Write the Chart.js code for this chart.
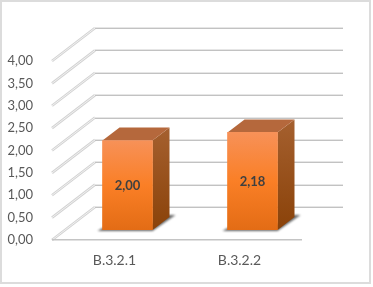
<!DOCTYPE html>
<html>
<head>
<meta charset="utf-8">
<style>
  html, body { margin: 0; padding: 0; background: #fff; }
  canvas { display: block; }
</style>
<script src="https://cdn.jsdelivr.net/npm/chart.js@4"></script>
</head>
<body>
<canvas id="bars" width="373" height="287"></canvas>
<script>
const categories = ['B.3.2.1', 'B.3.2.2'];
const values = [2.00, 2.18];
const yTicks = [0, 0.5, 1, 1.5, 2, 2.5, 3, 3.5, 4];

const fmtNum = (v) => v.toFixed(2).replace('.', ',');

// depth of the fake 3D box: back wall and bar plane are shifted from the axis plane
const WALL = { dx: 43, dy: -33 };
const BAR = { dx: 13, dy: -10 };
const SIDE = { dx: 17, dy: -13 };

function poly(c, pts, fill) {
  c.beginPath();
  pts.forEach((p, i) => (i ? c.lineTo(p[0], p[1]) : c.moveTo(p[0], p[1])));
  c.closePath();
  c.fillStyle = fill;
  c.fill();
}

function drawWalls(chart) {
  const c = chart.ctx;
  const { left, right, bottom } = chart.chartArea;
  const y = chart.scales.y;
  yTicks.forEach((t) => {
    const py = y.getPixelForValue(t);
    // side wall diagonal, a light line with a paler core
    c.beginPath();
    c.moveTo(left, py);
    c.lineTo(left + WALL.dx, py + WALL.dy);
    c.strokeStyle = '#d2d2d2';
    c.lineWidth = 2.6;
    c.stroke();
    c.strokeStyle = '#f4f4f4';
    c.lineWidth = 0.9;
    c.stroke();
    // back wall line
    c.fillStyle = '#e6e6e6';
    c.fillRect(left + WALL.dx, Math.round(py + WALL.dy) - 1, right - left - 2, 1);
    c.fillStyle = '#c2c2c2';
    c.fillRect(left + WALL.dx, Math.round(py + WALL.dy), right - left - 2, 1);
  });
  // front edge of the floor
  c.fillStyle = '#c4c4c4';
  c.fillRect(left, bottom - 1, right - left, 1.5);
}

function drawBarSides(chart) {
  const c = chart.ctx;
  chart.getDatasetMeta(0).data.forEach((bar) => {
    const l = bar.x - bar.width / 2 + BAR.dx;
    const r = bar.x + bar.width / 2 + BAR.dx;
    const t = bar.y + BAR.dy;
    const b = bar.base + BAR.dy;
    // shadow on the floor
    c.save();
    c.filter = 'blur(1px)';
    poly(c, [[l - 5, b + 1], [r, b + 1], [r + 23, b - 15], [r + 12, b - 15], [r, b - 6], [l, b - 2]], '#666666');
    c.restore();
    const g = c.createLinearGradient(0, t + SIDE.dy, 0, b);
    g.addColorStop(0, '#a5602f');
    g.addColorStop(1, '#8a4209');
    poly(c, [[r, t], [r + SIDE.dx, t + SIDE.dy], [r + SIDE.dx, b + SIDE.dy], [r, b]], g);
    poly(c, [[l, t], [l + SIDE.dx, t + SIDE.dy], [r + SIDE.dx, t + SIDE.dy], [r, t]], '#b5683c');
  });
}

const box3d = {
  id: 'box3d',
  beforeDraw(chart) {
    const c = chart.ctx;
    c.strokeStyle = '#dcdcdc';
    c.lineWidth = 2;
    c.strokeRect(1, 1, 369, 282);
  },
  beforeDatasetsDraw(chart) {
    drawWalls(chart);
    drawBarSides(chart);
    chart.ctx.save();
    chart.ctx.translate(BAR.dx, BAR.dy);
  },
  afterDatasetsDraw(chart) {
    const c = chart.ctx;
    c.restore();
    c.font = 'bold 13px Lato';
    c.fillStyle = '#404040';
    c.textAlign = 'center';
    c.textBaseline = 'middle';
    chart.getDatasetMeta(0).data.forEach((bar, i) => {
      c.fillText(fmtNum(values[i]), bar.x + BAR.dx, (bar.y + bar.base) / 2 + BAR.dy + 1);
    });
  },
};

const ctx = document.getElementById('bars').getContext('2d');

new Chart(ctx, {
  type: 'bar',
  data: {
    labels: categories,
    datasets: [{
      data: values,
      barThickness: 50,
      backgroundColor: (cx) => {
        const y = cx.chart.scales.y;
        const top = y ? y.getPixelForValue(values[cx.dataIndex]) : NaN;
        const base = y ? y.getPixelForValue(0) : NaN;
        if (!isFinite(top) || !isFinite(base)) return '#f97c20';
        const g = cx.chart.ctx.createLinearGradient(0, top, 0, base);
        g.addColorStop(0, '#f79158');
        g.addColorStop(0.5, '#fa7f26');
        g.addColorStop(1, '#e36c15');
        return g;
      },
    }],
  },
  plugins: [box3d],
  options: {
    responsive: false,
    animation: false,
    layout: { padding: { top: 61, right: 71 } },
    plugins: { legend: { display: false }, tooltip: { enabled: false } },
    scales: {
      x: {
        grid: { display: false },
        border: { display: false },
        ticks: { color: '#595959', font: { family: 'Lato', size: 14 }, padding: 4, maxRotation: 0 },
        afterFit: (s) => { s.height = 47; },
      },
      y: {
        min: 0,
        max: 4,
        grid: { display: false },
        border: { display: false },
        ticks: {
          stepSize: 0.5,
          color: '#595959',
          font: { family: 'Lato', size: 13 },
          padding: 11,
          callback: (v) => fmtNum(v),
        },
        afterFit: (s) => { s.width = 52; },
      },
    },
  },
});
</script>
</body>
</html>
